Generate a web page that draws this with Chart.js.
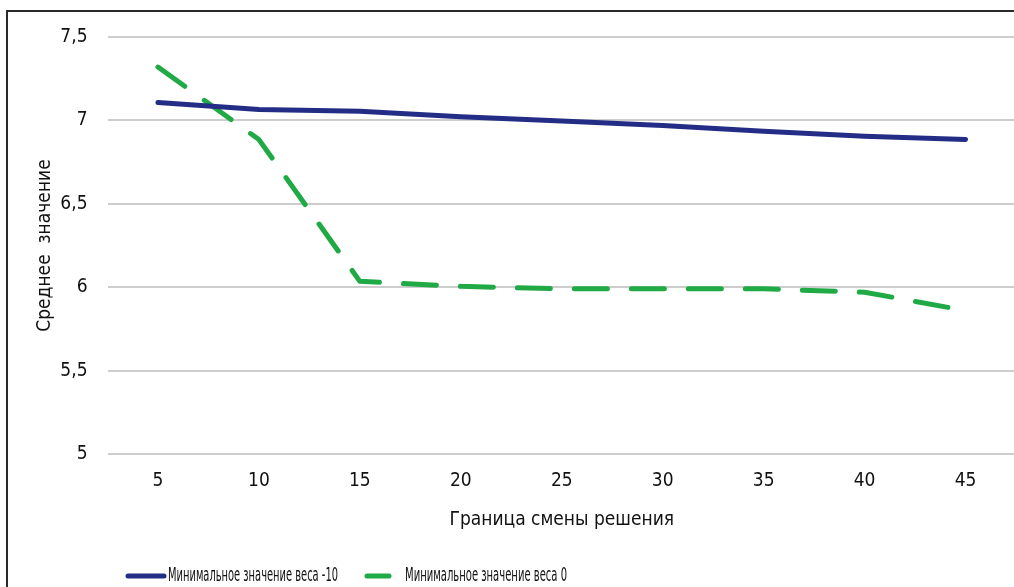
<!DOCTYPE html>
<html><head><meta charset="utf-8">
<script src="https://cdn.jsdelivr.net/npm/chart.js@4"></script>
<style>
html,body{margin:0;padding:0;background:#fff;overflow:hidden;width:1014px;height:587px;}
#wrap{position:absolute;left:0;top:0;width:1040px;height:587px;}
#frame{position:absolute;left:6px;top:10px;width:1100px;height:700px;border-left:2px solid #2a2a2a;border-top:2px solid #2a2a2a;pointer-events:none;}
</style></head>
<body>
<div id="wrap"><canvas id="c" width="1040" height="587"></canvas></div>
<div id="frame"></div>
<script>
const categories = ['5','10','15','20','25','30','35','40','45'];
const seriesMinus10 = [7.108, 7.065, 7.055, 7.022, 6.996, 6.97, 6.935, 6.905, 6.886];
const seriesZero = [7.32, 6.885, 6.035, 6.005, 5.99, 5.99, 5.99, 5.97, 5.86];
const seriesNames = ['Минимальное значение веса -10', 'Минимальное значение веса 0'];
const yTickLabels = {7.5:'7,5', 7:'7', 6.5:'6,5', 6:'6', 5.5:'5,5', 5:'5'};
const xTitle = 'Граница смены решения';
const yTitle = 'Среднее  значение';

const NARROW = '"Liberation Sans Narrow", "DejaVu Sans Condensed", "Liberation Sans", sans-serif';
const TXT = '#111111';

const legendPlugin = {
  id: 'customLegend',
  afterDraw(chart) {
    const ctx = chart.ctx;
    const items = [
      {x0:128, x1:164, tx:168, tw:170, color:'#232d86', text: chart.data.datasets[0].label},
      {x0:367, x1:389, tx:405, tw:162, color:'#1faa45', text: chart.data.datasets[1].label}
    ];
    const y = 576;
    ctx.save();
    items.forEach(it => {
      ctx.strokeStyle = it.color;
      ctx.lineWidth = 5;
      ctx.lineCap = 'round';
      ctx.beginPath(); ctx.moveTo(it.x0, y); ctx.lineTo(it.x1, y); ctx.stroke();
      ctx.font = '19px ' + NARROW;
      ctx.fillStyle = TXT;
      ctx.textBaseline = 'middle';
      ctx.textAlign = 'left';
      const w = ctx.measureText(it.text).width;
      const sx = it.tw / w;
      ctx.save();
      ctx.translate(it.tx, y);
      ctx.scale(sx, 1);
      ctx.fillText(it.text, 0, 0);
      ctx.restore();
    });
    ctx.restore();
  }
};

new Chart(document.getElementById('c'), {
  type: 'line',
  data: {
    labels: categories,
    datasets: [
      {label: seriesNames[0], data: seriesMinus10, borderColor:'#232d86', backgroundColor:'#232d86',
       borderWidth:5, pointRadius:0, tension:0, borderCapStyle:'round', borderJoinStyle:'round'},
      {label: seriesNames[1], data: seriesZero, borderColor:'#1faa45', backgroundColor:'#1faa45',
       borderWidth:5, pointRadius:0, tension:0, borderDash:[33,24], borderCapStyle:'round', borderJoinStyle:'round'}
    ]
  },
  plugins: [legendPlugin],
  options: {
    responsive:false, animation:false, devicePixelRatio:1,
    layout:{padding:{left:30, top:37, right:24, bottom:52}},
    plugins:{legend:{display:false}, tooltip:{enabled:false}},
    scales:{
      x:{
        offset:true,
        grid:{display:false, drawTicks:false},
        border:{display:false},
        ticks:{color:TXT, padding:16, font:{family:NARROW, size:19}, maxRotation:0},
        title:{display:true, text:xTitle, color:TXT, font:{family:NARROW, size:19}, padding:{top:4,bottom:4}},
        afterFit(s){ s.height = 81; }
      },
      y:{
        min:5, max:7.5,
        grid:{color:'#cdcdcd', lineWidth:2, drawTicks:false},
        border:{display:false},
        ticks:{stepSize:0.5, color:TXT, padding:20, font:{family:NARROW, size:19},
               callback:(v)=> yTickLabels[v] !== undefined ? yTickLabels[v] : ''},
        title:{display:true, text:yTitle, color:TXT, font:{family:NARROW, size:19}, padding:{top:4,bottom:4}},
        afterFit(s){ s.width = 77.5; }
      }
    }
  }
});
</script>
</body></html>
